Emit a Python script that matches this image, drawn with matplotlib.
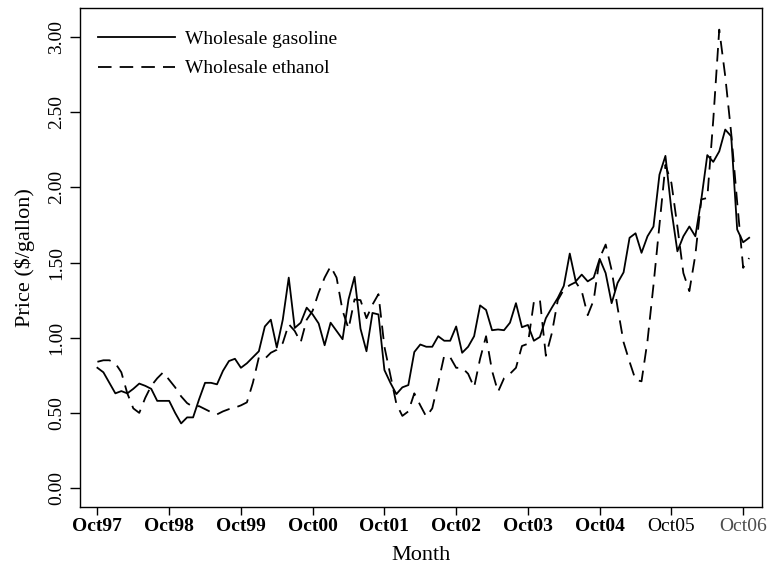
"""Wholesale gasoline vs ethanol monthly prices, Oct97 - Nov06."""

import matplotlib

matplotlib.use("Agg")
import matplotlib.pyplot as plt  # noqa: E402
import numpy as np  # noqa: E402

# monthly values, first month = Oct 1997
gasoline = [
    0.80, 0.77, 0.70, 0.63, 0.645, 0.63, 0.66, 0.695, 0.68, 0.66,
    0.58, 0.58, 0.58, 0.50, 0.43, 0.47, 0.47, 0.59, 0.70, 0.70,
    0.69, 0.78, 0.845, 0.86, 0.80, 0.83, 0.87, 0.91, 1.075, 1.12,
    0.935, 1.12, 1.40, 1.065, 1.10, 1.20, 1.155, 1.095, 0.95, 1.10,
    1.045, 0.99, 1.255, 1.405, 1.06, 0.91, 1.165, 1.155, 0.785, 0.70,
    0.625, 0.67, 0.685, 0.905, 0.955, 0.94, 0.94, 1.01, 0.98, 0.98,
    1.075, 0.90, 0.94, 1.01, 1.215, 1.185, 1.05, 1.055, 1.05, 1.10,
    1.23, 1.07, 1.085, 0.98, 1.005, 1.13, 1.20, 1.265, 1.345, 1.56,
    1.375, 1.42, 1.375, 1.40, 1.525, 1.43, 1.23, 1.365, 1.435, 1.665,
    1.695, 1.565, 1.675, 1.74, 2.085, 2.21, 1.85, 1.575, 1.675, 1.74,
    1.675, 1.92, 2.215, 2.17, 2.24, 2.385, 2.34, 1.72, 1.635, 1.665,
]
ethanol = [
    0.84, 0.85, 0.85, 0.83, 0.77, 0.63, 0.53, 0.50, 0.60, 0.68,
    0.73, 0.77, 0.72, 0.67, 0.61, 0.565, 0.54, 0.545, 0.525, 0.505,
    0.49, 0.51, 0.525, 0.535, 0.55, 0.57, 0.70, 0.87, 0.86, 0.90,
    0.92, 0.965, 1.09, 1.045, 0.97, 1.12, 1.18, 1.30, 1.40, 1.475,
    1.40, 1.18, 1.06, 1.255, 1.25, 1.13, 1.22, 1.29, 0.94, 0.75,
    0.56, 0.48, 0.51, 0.63, 0.55, 0.475, 0.53, 0.70, 0.88, 0.87,
    0.80, 0.80, 0.76, 0.67, 0.86, 1.01, 0.78, 0.64, 0.73, 0.76,
    0.80, 0.945, 0.96, 1.24, 1.255, 0.88, 1.03, 1.25, 1.32, 1.35,
    1.37, 1.31, 1.15, 1.25, 1.53, 1.62, 1.45, 1.20, 0.97, 0.84,
    0.72, 0.71, 0.98, 1.35, 1.75, 2.15, 2.03, 1.74, 1.43, 1.31,
    1.55, 1.92, 1.93, 2.45, 3.05, 2.74, 2.36, 1.90, 1.465, 1.53,
]
tick_labels = ["Oct97", "Oct98", "Oct99", "Oct00", "Oct01",
               "Oct02", "Oct03", "Oct04", "Oct05", "Oct06"]
y_ticks = [0.0, 0.5, 1.0, 1.5, 2.0, 2.5, 3.0]

plt.rcParams["font.family"] = ["Liberation Serif", "DejaVu Serif"]

months = np.arange(len(gasoline))

fig = plt.figure(figsize=(7.7, 5.69), dpi=100)
ax = fig.add_axes([0.104, 0.109, 0.886, 0.877])

ax.plot(months, gasoline, color="black", lw=1.3, label="Wholesale gasoline")
ax.plot(months, ethanol, color="black", lw=1.3, dashes=(7.5, 4.5),
        label="Wholesale ethanol")

ax.set_xlim(-2.9, 111.2)
ax.set_ylim(-0.126, 3.194)

ax.set_xticks(np.arange(0, 12 * len(tick_labels), 12))
ax.set_xticklabels(tick_labels, fontsize=14)
for i, lab in enumerate(ax.get_xticklabels()):
    if i < 8:
        lab.set_fontweight("bold")
    elif i == 9:
        lab.set_color("0.3")

ax.set_yticks(y_ticks)
ax.set_yticklabels([f"{v:.2f}" for v in y_ticks], fontsize=14,
                   rotation=90, va="center")

ax.tick_params(axis="x", direction="out", length=6, width=1, pad=2)
ax.tick_params(axis="y", direction="out", length=7, width=1, pad=4)
for spine in ax.spines.values():
    spine.set_linewidth(1)
    spine.set_color("black")

ax.set_xlabel("Month", fontsize=16, labelpad=8)
ax.set_ylabel("Price ($/gallon)", fontsize=16, labelpad=9)

ax.legend(loc="upper left", frameon=False, fontsize=14, handlelength=4.0,
          handletextpad=0.5, labelspacing=0.6,
          bbox_to_anchor=(0.0, 0.99))

fig.savefig("out.png", dpi=100)
